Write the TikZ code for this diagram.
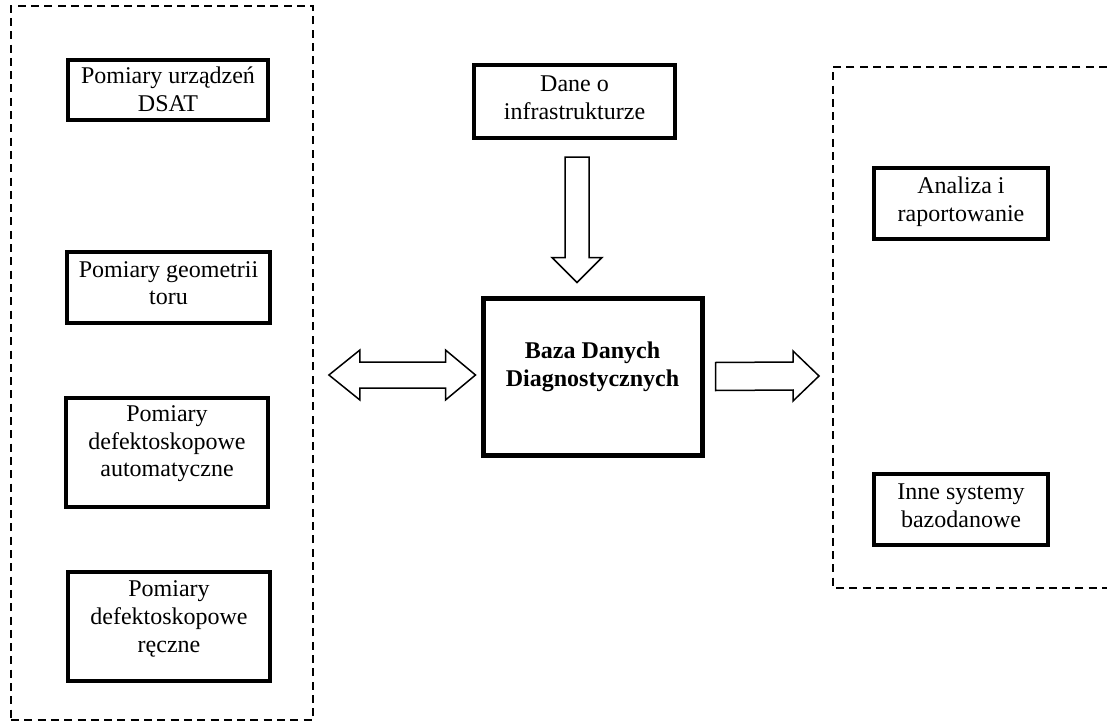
\documentclass[tikz,border=0pt]{standalone}
\usepackage{fontspec}
\setmainfont{Liberation Serif}
\usetikzlibrary{calc}
\tikzset{
  grp/.style={draw, line width=1.8pt, dash pattern=on 8pt off 5.3pt},
  box/.style={draw, line width=4.5pt, rectangle, inner sep=0pt},
  txt/.style={font=\fontsize{24}{27.6}\selectfont, align=center, inner sep=0pt},
  blockarrow/.style={draw, line width=1.5pt, fill=white, line join=miter},
}
\begin{document}
\begin{tikzpicture}[x=1pt,y=-1pt]
\useasboundingbox (0,0) rectangle (1107,722);
% groups
\node[grp, minimum width=302pt, minimum height=714pt] (leftgrp) at (162,363) {};
\coordinate (rgA) at (1107,67);
\coordinate (rgB) at (833,67);
\coordinate (rgC) at (833,588);
\coordinate (rgD) at (1107,588);
\draw[grp] (rgA) -- (rgB) -- (rgC) -- (rgD);
\coordinate (rgin) at (833,376);
% left boxes
\node[box, minimum width=200pt, minimum height=60pt] (b1) at (168,90) {};
\node[txt] (t1) at (168,89) {Pomiary urządzeń\\DSAT};
\node[box, minimum width=203pt, minimum height=71pt] (b2) at (168.5,287.5) {};
\node[txt] (t2) at (168.5,283) {Pomiary geometrii\\toru};
\node[box, minimum width=202pt, minimum height=109pt] (b3) at (167,452.5) {};
\node[txt] (t3) at (167,444) {Pomiary\\defektoskopowe\\automatyczne};
\node[box, minimum width=202pt, minimum height=109pt] (b4) at (169,626.5) {};
\node[txt] (t4) at (169,619) {Pomiary\\defektoskopowe\\ręczne};
% centre
\node[box, minimum width=201pt, minimum height=73pt] (dane) at (574.5,101.5) {};
\node[txt] (tdane) at (574.5,98) {Dane o\\infrastrukturze};
\node[box, line width=5pt, minimum width=219pt, minimum height=157pt] (baza) at (592.5,376.5) {};
\node[txt, font=\fontsize{24}{28}\selectfont\bfseries] (tbaza) at (592.5,367) {Baza Danych\\Diagnostycznych};
% right boxes
\node[box, minimum width=174pt, minimum height=71pt] (anal) at (961,203.5) {};
\node[txt] (tanal) at (961,202) {Analiza i\\raportowanie};
\node[box, minimum width=174pt, minimum height=71pt] (inne) at (961,509.5) {};
\node[txt] (tinne) at (961,506) {Inne systemy\\bazodanowe};
% down arrow
\coordinate (dn1) at ($(dane.south)+(2.5,17)$);
\coordinate (dn2) at ($(baza.north)+(-15.5,-13)$);
\draw[blockarrow] ($(dn1)+(-12,0)$) -- ($(dn1)+(12,0)$) -- ($(dn2)+(12,-25)$) -- ($(dn2)+(25,-25)$) -- (dn2) -- ($(dn2)+(-25,-25)$) -- ($(dn2)+(-12,-25)$) -- cycle;
% double arrow
\coordinate (da1) at ($(leftgrp.east)+(15,12)$);
\coordinate (da2) at ($(baza.west)+(-5,-1.5)$);
\draw[blockarrow] (da1) -- ($(da1)+(31,-25)$) -- ($(da1)+(31,-13)$) -- ($(da2)+(-30,-13)$) -- ($(da2)+(-30,-25)$) -- (da2) -- ($(da2)+(-30,25)$) -- ($(da2)+(-30,13)$) -- ($(da1)+(31,13)$) -- ($(da1)+(31,25)$) -- cycle;
% right arrow
\coordinate (ra1) at ($(baza.east)+(11,0)$);
\coordinate (ra2) at ($(rgin)+(-14,0)$);
\draw[blockarrow] ($(ra1)+(0,-14)$) -- ($(ra2)+(-26,-14)$) -- ($(ra2)+(-26,-25)$) -- (ra2) -- ($(ra2)+(-26,25)$) -- ($(ra2)+(-26,14)$) -- ($(ra1)+(0,14)$) -- cycle;
\end{tikzpicture}
\end{document}
